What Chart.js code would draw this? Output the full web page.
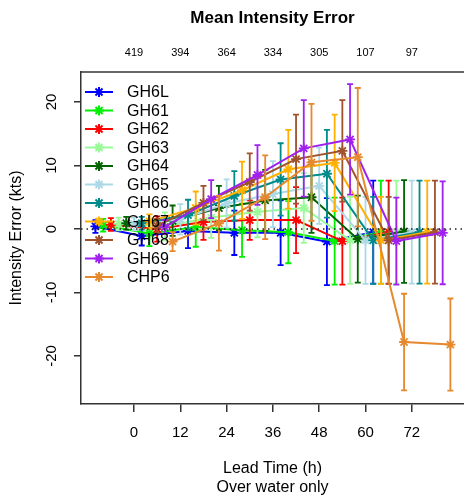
<!DOCTYPE html>
<html>
<head>
<meta charset="utf-8">
<script src="https://cdn.jsdelivr.net/npm/chart.js@4"></script>
<style>
html, body { margin: 0; padding: 0; background: #fff; overflow: hidden; }
#wrap { width: 464px; height: 497px; }
canvas { display: block; }
</style>
</head>
<body>
<div id="wrap"><canvas id="chart" width="464" height="497"></canvas></div>
<script>
// Data
const leadTimes = [0, 12, 24, 36, 48, 60, 72];
const caseCounts = ['419', '394', '364', '334', '305', '107', '97'];
const yTicks = [-20, -10, 0, 10, 20];
const seriesNames = ['GH6L', 'GH61', 'GH62', 'GH63', 'GH64', 'GH65', 'GH66', 'GH67', 'GH68', 'GH69', 'CHP6'];

const meanGH6L = [0.4, -1.1, -0.3, -0.6, -0.6, -2.0, -0.5];
const meanGH61 = [0.6, -0.7, 0.3, -0.2, -0.5, -1.9, -0.5];
const meanGH62 = [0.7, 0.0, 1.1, 1.4, 1.4, -1.9, -0.5];
const meanGH63 = [0.8, 0.4, 1.8, 2.7, 3.3, -1.8, -0.5];
const meanGH64 = [0.9, 1.3, 3.3, 4.5, 5.0, -1.6, -0.4];
const meanGH65 = [0.8, 1.5, 4.0, 5.5, 6.8, -1.8, -0.5];
const meanGH66 = [0.9, 2.2, 5.2, 7.8, 8.7, -1.8, -0.5];
const meanGH67 = [1.2, 3.3, 6.1, 9.4, 10.4, -1.8, -0.5];
const meanGH68 = [0.5, 4.1, 7.4, 11.0, 12.3, -1.8, -0.5];
const meanGH69 = [0.3, 4.7, 8.5, 12.7, 14.1, -1.9, -0.6];
const meanCHP6 = [-2.0, 0.9, 5.0, 10.5, 11.3, -17.8, -18.2];

const sdGH6L = [1.0, 1.5, 2.7, 3.5, 5.1, 6.85, 8.1];
const sdGH61 = [1.0, 2.0, 3.1, 4.2, 4.9, 6.85, 8.1];
const sdGH62 = [1.0, 2.0, 2.8, 3.1, 5.2, 6.85, 8.1];
const sdGH63 = [1.0, 2.2, 3.2, 4.0, 5.5, 6.85, 8.1];
const sdGH64 = [1.0, 2.4, 3.5, 4.8, 5.6, 6.85, 8.1];
const sdGH65 = [1.0, 2.4, 3.8, 5.2, 6.0, 6.85, 8.1];
const sdGH66 = [1.0, 2.4, 3.9, 5.7, 6.9, 6.85, 8.1];
const sdGH67 = [1.1, 2.6, 4.5, 6.2, 7.6, 6.85, 8.1];
const sdGH68 = [1.1, 2.7, 4.5, 7.0, 8.0, 6.85, 8.1];
const sdGH69 = [1.1, 3.0, 4.7, 7.6, 8.7, 6.85, 8.1];
const sdCHP6 = [1.5, 4.3, 6.6, 9.2, 10.9, 7.6, 7.25];

const means = [meanGH6L, meanGH61, meanGH62, meanGH63, meanGH64, meanGH65, meanGH66, meanGH67, meanGH68, meanGH69, meanCHP6];
const sds = [sdGH6L, sdGH61, sdGH62, sdGH63, sdGH64, sdGH65, sdGH66, sdGH67, sdGH68, sdGH69, sdCHP6];
const colors = ['#0000FF', '#00EE00', '#FF0000', '#98FB98', '#006400', '#ADD8E6', '#008B8B', '#FFB000', '#A0522D', '#A020F0', '#E6892E'];

// each model is shifted sideways a little so the bars don't stack
const dodge = i => -10 + 2 * i;

const FONT = "'Liberation Sans', Arial, sans-serif";
Chart.defaults.font.family = FONT;

const datasets = seriesNames.map((name, i) => ({
  label: name,
  data: leadTimes.map((t, k) => ({ x: t + dodge(i), y: means[i][k] })),
  showLine: true,
  borderColor: colors[i],
  backgroundColor: colors[i],
  borderWidth: 2,
  pointStyle: 'star',
  pointRadius: 5,
  pointBorderWidth: 1.8,
  pointBorderColor: colors[i],
  order: seriesNames.length - i
}));

// vertical error bars, drawn under each series' own line
const errorBars = {
  id: 'errorBars',
  beforeDatasetDraw(chart, args) {
    const i = args.index;
    const xs = chart.scales.x, ys = chart.scales.y;
    const ctx = chart.ctx;
    ctx.save();
    ctx.strokeStyle = colors[i];
    ctx.lineWidth = 1.8;
    leadTimes.forEach((t, k) => {
      const px = xs.getPixelForValue(t + dodge(i));
      const top = ys.getPixelForValue(means[i][k] + sds[i][k]);
      const bot = ys.getPixelForValue(means[i][k] - sds[i][k]);
      ctx.beginPath();
      ctx.moveTo(px, top); ctx.lineTo(px, bot);
      ctx.moveTo(px - 3, top); ctx.lineTo(px + 3, top);
      ctx.moveTo(px - 3, bot); ctx.lineTo(px + 3, bot);
      ctx.stroke();
    });
    ctx.restore();
  }
};

// R-style extras: frame top, zero line, titles, counts, tick labels, legend
const decorations = {
  id: 'decorations',
  afterDatasetsDraw(chart) {
    const { ctx, chartArea: a } = chart;
    const ys = chart.scales.y;
    ctx.save();
    ctx.strokeStyle = '#222';
    ctx.lineWidth = 1.5;
    ctx.setLineDash([1.5, 4]);
    ctx.beginPath();
    ctx.moveTo(a.left, ys.getPixelForValue(0));
    ctx.lineTo(a.right, ys.getPixelForValue(0));
    ctx.stroke();
    ctx.restore();
  },
  afterDraw(chart) {
    const { ctx, chartArea: a } = chart;
    const xs = chart.scales.x, ys = chart.scales.y;
    const cx = (a.left + a.right) / 2;
    ctx.save();
    // top edge of the box
    ctx.strokeStyle = '#333';
    ctx.lineWidth = 1.5;
    ctx.beginPath();
    ctx.moveTo(a.left, a.top);
    ctx.lineTo(a.right, a.top);
    ctx.stroke();

    ctx.fillStyle = '#000';
    ctx.textAlign = 'center';
    ctx.textBaseline = 'middle';
    ctx.font = 'bold 17px ' + FONT;
    ctx.fillText('Mean Intensity Error', cx, 18);

    ctx.font = '11px ' + FONT;
    leadTimes.forEach((t, k) => ctx.fillText(caseCounts[k], xs.getPixelForValue(t), 53));

    ctx.font = '15px ' + FONT;
    xs.ticks.forEach(tk => ctx.fillText(String(tk.value), xs.getPixelForValue(tk.value), a.bottom + 29));

    ctx.font = '16px ' + FONT;
    ctx.fillText('Lead Time (h)', cx, 469);
    ctx.fillText('Over water only', cx, 488);

    ctx.save();
    ctx.translate(17, (a.top + a.bottom) / 2);
    ctx.rotate(-Math.PI / 2);
    ctx.fillText('Intensity Error (kts)', 0, 0);
    ctx.restore();

    ctx.font = '15px ' + FONT;
    ys.ticks.forEach(tk => {
      ctx.save();
      ctx.translate(a.left - 29, ys.getPixelForValue(tk.value));
      ctx.rotate(-Math.PI / 2);
      ctx.fillText(String(tk.value), 0, 0);
      ctx.restore();
    });

    // legend
    ctx.font = '16px ' + FONT;
    ctx.textAlign = 'left';
    seriesNames.forEach((name, i) => {
      const y = 92 + i * 18.5;
      ctx.strokeStyle = colors[i];
      ctx.lineWidth = 2;
      ctx.beginPath();
      ctx.moveTo(85, y);
      ctx.lineTo(113, y);
      ctx.stroke();
      Chart.helpers.drawPoint(ctx, { pointStyle: 'star', radius: 5, borderWidth: 1.8 }, 99, y);
      ctx.fillStyle = '#000';
      ctx.fillText(name, 127, y + 1);
    });
    ctx.restore();
  }
};

new Chart(document.getElementById('chart'), {
  type: 'scatter',
  data: { datasets },
  options: {
    responsive: false,
    animation: false,
    layout: { autoPadding: false, padding: { top: 72, right: 0, left: 0, bottom: 0 } },
    plugins: { legend: { display: false }, tooltip: { enabled: false } },
    scales: {
      x: {
        type: 'linear',
        min: -13.74,
        max: 85.53,
        afterBuildTicks: s => { s.ticks = leadTimes.map(v => ({ value: v })); },
        afterFit: s => { s.height = 93; s.paddingLeft = 0; s.paddingRight = 0; },
        grid: { drawOnChartArea: false, drawTicks: true, tickLength: 8, color: '#333', lineWidth: 1.5 },
        border: { display: true, color: '#333', width: 1.5 },
        ticks: { display: false }
      },
      y: {
        type: 'linear',
        min: -27.56,
        max: 24.72,
        afterBuildTicks: s => { s.ticks = yTicks.map(v => ({ value: v })); },
        afterFit: s => { s.width = 81; s.paddingTop = 0; s.paddingBottom = 0; },
        grid: { drawOnChartArea: false, drawTicks: true, tickLength: 7, color: '#333', lineWidth: 1.5 },
        border: { display: true, color: '#333', width: 1.5 },
        ticks: { display: false }
      }
    }
  },
  plugins: [errorBars, decorations]
});
</script>
</body>
</html>
